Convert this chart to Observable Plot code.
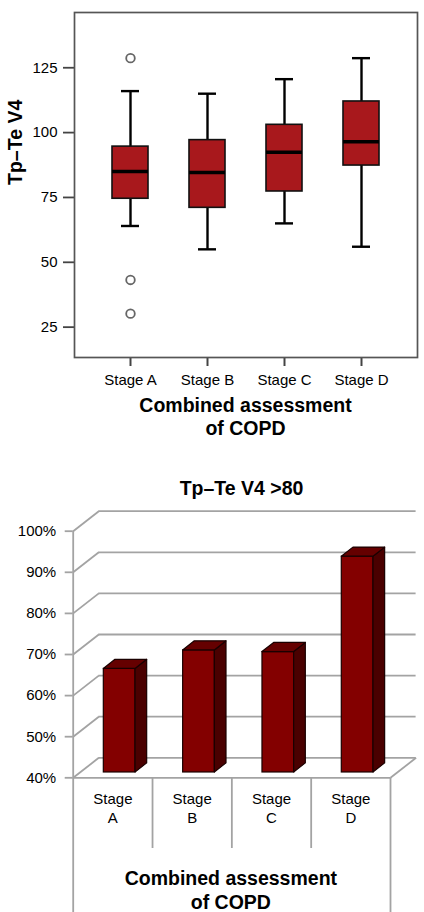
<!DOCTYPE html>
<html>
<head>
<meta charset="utf-8">
<script src="https://cdn.jsdelivr.net/npm/d3@7"></script>
<script src="https://cdn.jsdelivr.net/npm/@observablehq/plot@0.6"></script>
<style>
  html, body { margin: 0; padding: 0; background: #fff; }
  body { width: 424px; height: 912px; overflow: hidden; font-family: "Liberation Sans", Arial, sans-serif; }
  svg { display: block; }
  .xtitle1 { margin-left: 74px; width: 343px; height: 46px; padding-top: 2px; text-align: center;
             font-weight: bold; font-size: 19.5px; line-height: 23px; color: #000; }
  .title2 { width: 424px; height: 24px; padding-top: 36px; padding-left: 0; text-align: center;
            font-weight: bold; font-size: 19.5px; line-height: 24px; color: #000; text-indent: 59px; }
</style>
</head>
<body>
<div id="top"></div>
<div class="xtitle1">Combined assessment<br>of COPD</div>
<div class="title2">Tp–Te V4 &gt;80</div>
<div id="bottom"></div>
<script>
// ---------- Box plot data (Tp–Te V4 by stage) ----------
const stages      = ["Stage A", "Stage B", "Stage C", "Stage D"];
const whiskerLow  = [64, 55, 65, 56];
const quart1      = [74.5, 71, 77.3, 87.3];
const medians     = [85, 84.6, 92.4, 96.5];
const quart3      = [94.6, 97.1, 103, 112];
const whiskerHigh = [116, 115, 120.6, 128.7];
const outlierStage  = ["Stage A", "Stage A", "Stage A"];
const outlierValues = [128.7, 43.2, 30.2];
const boxTicks = [25, 50, 75, 100, 125];

// ---------- 3D bar data (Tp–Te V4 >80) ----------
const barCategories = ["Stage\nA", "Stage\nB", "Stage\nC", "Stage\nD"];
const barValues     = [65.2, 69.7, 69.3, 92.5];
const pctTicks      = [40, 50, 60, 70, 80, 90, 100];

const FONT = "Liberation Sans, Arial, Helvetica, sans-serif";

// ================= TOP: box plot =================
const boxes = stages.map((s, i) => ({
  stage: s, low: whiskerLow[i], q1: quart1[i], med: medians[i], q3: quart3[i], high: whiskerHigh[i]
}));
const outliers = outlierStage.map((s, i) => ({stage: s, value: outlierValues[i]}));

const topPlot = Plot.plot({
  width: 424, height: 392,
  marginLeft: 74, marginRight: 7, marginTop: 12, marginBottom: 35,
  style: {fontFamily: FONT, fontSize: "15px", color: "#000", background: "#fff", overflow: "visible"},
  x: {type: "band", domain: stages, paddingInner: 0.534, paddingOuter: 0.482},
  y: {domain: [13.3, 146.3]},
  marks: [
    Plot.axisX({tickSize: 9, tickPadding: 8, label: null, stroke: "#444", strokeWidth: 2, fill: "#000"}),
    Plot.axisY({ticks: boxTicks, tickSize: 11, tickPadding: 6, label: null, stroke: "#444", strokeWidth: 1.8, fill: "#000"}),
    Plot.frame({stroke: "#555", strokeWidth: 1.7}),
    Plot.ruleX(boxes, {x: "stage", y1: "low", y2: "high", stroke: "#000", strokeWidth: 2.4}),
    Plot.tickY(boxes, {x: "stage", y: "low", insetLeft: 9, insetRight: 9, stroke: "#000", strokeWidth: 2.4}),
    Plot.tickY(boxes, {x: "stage", y: "high", insetLeft: 9, insetRight: 9, stroke: "#000", strokeWidth: 2.4}),
    Plot.barY(boxes, {x: "stage", y1: "q1", y2: "q3", fill: "#a8181c", stroke: "#111", strokeWidth: 1.6}),
    Plot.tickY(boxes, {x: "stage", y: "med", stroke: "#000", strokeWidth: 3.6}),
    Plot.dot(outliers, {x: "stage", y: "value", r: 4.3, stroke: "#666", strokeWidth: 1.8, fill: "#fff"}),
    Plot.text(["Tp–Te V4"], {text: d => d, frameAnchor: "left", dx: -59, rotate: -90,
      fontWeight: "bold", fontSize: 19.5, fill: "#000"})
  ]
});
document.getElementById("top").append(topPlot);

// ================= BOTTOM: pseudo-3D bar chart =================
const W = 424, H = 412;
const mL = 72.7, mR = 34, mT = 30.7, mB = 134.7;
const KX = (W - mL - mR) / 4;        // px per x unit
const KY = (H - mT - mB) / 60;       // px per % unit
const DX = 25.6 / KX;                // chart depth, x direction (units)
const DY = 20 / KY;                  // chart depth, y direction (units)
const BW = 31.7 / KX;                // bar width (units)
const F0 = 0.266, FD = 0.455;        // bar front position and bar depth (fractions of chart depth)
const ySep = 40 - 70.7 / KY;         // lower end of category separators
const yBot = 40 - mB / KY;           // bottom of svg

const bars = barValues.map((v, i) => {
  const x0 = i + 0.5 - BW / 2 + F0 * DX, x1 = x0 + BW;
  const yb = 40 + F0 * DY, yt = v + F0 * DY;
  return {i, label: barCategories[i], v, x0, x1, yb, yt};
});
const sideFaces = bars.flatMap(b => [
  {i: b.i, x: b.x1, y1: b.yb, y2: b.yt},
  {i: b.i, x: b.x1 + FD * DX, y1: b.yb + FD * DY, y2: b.yt + FD * DY}
]);
const topFaces = bars.flatMap(b => [
  {i: b.i, y: b.yt, x1: b.x0, x2: b.x1},
  {i: b.i, y: b.yt + FD * DY, x1: b.x0 + FD * DX, x2: b.x1 + FD * DX}
]);

const GRID = "#a3a3a3";
const bottomPlot = Plot.plot({
  width: W, height: H,
  marginLeft: mL, marginRight: mR, marginTop: mT, marginBottom: mB,
  style: {fontFamily: FONT, fontSize: "15px", color: "#000", background: "#fff", overflow: "visible"},
  x: {domain: [0, 4], axis: null},
  y: {domain: [40, 100], axis: null},
  marks: [
    Plot.ruleY(pctTicks, {y: d => d + DY, x1: DX, x2: 4 + DX, stroke: GRID, strokeWidth: 1.8}),
    Plot.link(pctTicks, {x1: 0, y1: d => d, x2: DX, y2: d => d + DY, stroke: GRID, strokeWidth: 1.8}),
    Plot.ruleY([40], {x1: 0, x2: 4, stroke: GRID, strokeWidth: 1.8}),
    Plot.link([40], {x1: 4, y1: 40, x2: 4 + DX, y2: 40 + DY, stroke: GRID, strokeWidth: 1.8}),
    Plot.ruleX([0], {y1: 40, y2: 100, stroke: GRID, strokeWidth: 1.8}),
    Plot.ruleX([0, 4], {y1: 40, y2: yBot, stroke: GRID, strokeWidth: 1.8}),
    Plot.ruleX([1, 2, 3], {y1: 40, y2: ySep, stroke: GRID, strokeWidth: 1.8}),
    Plot.axisY({ticks: pctTicks, tickSize: 8, tickPadding: 9, tickFormat: d => d + "%", label: null,
      stroke: GRID, strokeWidth: 1.8, fill: "#000"}),
    Plot.rect(bars, {x1: "x0", x2: "x1", y1: "yb", y2: "yt", fill: "#830000", stroke: "#1a0000", strokeWidth: 1.2}),
    Plot.areaY(sideFaces, {x: "x", y1: "y1", y2: "y2", z: "i", fill: "#4a0000", stroke: "#1a0000", strokeWidth: 1.2}),
    Plot.areaX(topFaces, {y: "y", x1: "x1", x2: "x2", z: "i", fill: "#650000", stroke: "#1a0000", strokeWidth: 1.2}),
    Plot.text(bars, {x: d => d.i + 0.5, y: 40, text: "label", dy: 29.7, lineAnchor: "middle",
      lineHeight: 1.29, fontSize: 15, fill: "#000"}),
    Plot.text(["Combined assessment\nof COPD"], {text: d => d, x: 2, y: 40, dx: -1, dy: 111.7,
      lineAnchor: "middle", lineHeight: 1.2, fontWeight: "bold", fontSize: 19.5, fill: "#000"})
  ]
});
document.getElementById("bottom").append(bottomPlot);
</script>
</body>
</html>
